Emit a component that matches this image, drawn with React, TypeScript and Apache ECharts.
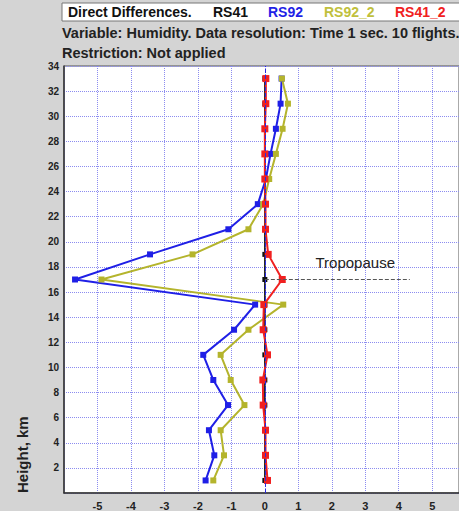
import { useEffect, useRef } from "react";
import * as echarts from "echarts";

// heights (km) where the differences were computed
const heights = [1, 3, 5, 7, 9, 11, 13, 15, 17, 19, 21, 23, 25, 27, 29, 31, 33];

// humidity differences vs RS41 (reference)
const rs41 = [0, 0, 0, 0, 0, 0, 0, 0, 0, 0, 0, 0, 0, 0, 0, 0, 0];
const rs92 = [-1.77, -1.51, -1.67, -1.1, -1.54, -1.84, -0.92, -0.29, -5.67, -3.43, -1.09, -0.21, 0.03, 0.17, 0.33, 0.47, 0.5];
const rs92_2 = [-1.54, -1.22, -1.32, -0.61, -1.02, -1.32, -0.49, 0.55, -4.88, -2.16, -0.49, -0.05, 0.13, 0.33, 0.53, 0.69, 0.51];
const rs41_2 = [0.08, 0.02, 0.02, -0.05, -0.06, 0.08, -0.05, -0.03, 0.52, 0.1, 0.02, 0.02, 0, 0, 0, 0.03, 0.03];

const seriesNames = ["RS41", "RS92", "RS92_2", "RS41_2"];
const seriesColors = ["#111111", "#1f1fe6", "#b4b42c", "#f02020"];

const tropopauseHeight = 17;
const tropopauseEnd = 4.33;

const FONT = "'Liberation Sans', Arial, sans-serif";

const pairs = (xs: number[]) => xs.map((x, i) => [x, heights[i]]);

export default function App() {
  const chartRef = useRef<HTMLDivElement>(null);

  useEffect(() => {
    if (!chartRef.current) return;
    const chart = echarts.init(chartRef.current, null, { renderer: "svg" });

    const headerText = (text: string, x: number, y: number, color: string, size: number) => ({
      type: "text",
      left: x,
      top: y,
      style: { text, fill: color, font: `bold ${size}px ${FONT}` },
    });

    const option: echarts.EChartsOption = {
      animation: false,
      backgroundColor: "#d4d4d4",
      grid: {
        left: 64,
        top: 66,
        right: 0,
        bottom: 18,
        show: true,
        backgroundColor: "#ffffff",
        borderColor: "#555",
        borderWidth: 1,
      },
      xAxis: {
        type: "value",
        // the original plot runs on past the right edge of the picture
        min: -6,
        max: 5.8,
        interval: 1,
        axisLine: { show: true, onZero: false, lineStyle: { color: "#333", width: 1.5 } },
        axisTick: { show: false },
        axisLabel: {
          showMinLabel: false,
          showMaxLabel: false,
          color: "#222",
          fontWeight: "bold",
          fontSize: 11,
          fontFamily: FONT,
          margin: 7,
        },
        splitLine: { show: true, lineStyle: { color: "#8c8cf0", type: "dotted", width: 1 } },
      },
      yAxis: {
        type: "value",
        min: 0,
        max: 34,
        interval: 2,
        axisLine: { show: true, onZero: false, lineStyle: { color: "#333", width: 1.5 } },
        axisTick: { show: false },
        axisLabel: {
          showMinLabel: false,
          color: "#222",
          fontWeight: "bold",
          fontSize: 10,
          fontFamily: FONT,
          margin: 5,
        },
        splitLine: { show: true, lineStyle: { color: "#8c8cf0", type: "dotted", width: 1 } },
      },
      series: [
        {
          name: seriesNames[1],
          type: "line",
          data: pairs(rs92),
          color: seriesColors[1],
          symbol: "rect",
          symbolSize: 6,
          lineStyle: { width: 2 },
          markLine: {
            silent: true,
            symbol: "none",
            label: { show: false },
            lineStyle: { color: "#2a2ae0", type: "dashed", width: 1 },
            data: [{ xAxis: 0 }],
          },
        },
        {
          name: seriesNames[2],
          type: "line",
          data: pairs(rs92_2),
          color: seriesColors[2],
          symbol: "rect",
          symbolSize: 6,
          lineStyle: { width: 2 },
        },
        {
          name: seriesNames[0],
          type: "line",
          data: pairs(rs41),
          color: seriesColors[0],
          symbol: "rect",
          symbolSize: 5,
          lineStyle: { width: 1.5 },
          markLine: {
            silent: true,
            symbol: "none",
            label: { show: false },
            lineStyle: { color: "#555", type: "dashed", width: 1 },
            data: [[{ coord: [0, tropopauseHeight] }, { coord: [tropopauseEnd, tropopauseHeight] }]],
          },
          markPoint: {
            silent: true,
            symbol: "circle",
            symbolSize: 0,
            label: {
              show: true,
              formatter: "Tropopause",
              color: "#222",
              fontSize: 15,
              fontFamily: FONT,
            },
            data: [{ coord: [2.7, 18.37] }],
          },
        },
        {
          name: seriesNames[3],
          type: "line",
          data: pairs(rs41_2),
          color: seriesColors[3],
          symbol: "rect",
          symbolSize: 7,
          lineStyle: { width: 2 },
        },
      ],
      graphic: [
        {
          type: "rect",
          shape: { x: 62, y: 3, width: 420, height: 18 },
          style: { fill: "#ffffff", stroke: "#777", lineWidth: 1 },
        },
        headerText("Direct Differences.", 68, 5, "#111", 14),
        headerText(seriesNames[0], 213, 5, seriesColors[0], 14),
        headerText(seriesNames[1], 268, 5, seriesColors[1], 14),
        headerText(seriesNames[2], 324, 5, "#c0c03c", 14),
        headerText(seriesNames[3], 395, 5, seriesColors[3], 14),
        headerText("Variable: Humidity. Data resolution: Time 1 sec. 10 flights.", 62, 25, "#222", 14.5),
        headerText("Restriction: Not applied", 62, 45, "#222", 14.5),
        {
          type: "text",
          x: 15,
          y: 493,
          rotation: Math.PI / 2,
          style: { text: "Height, km", fill: "#222", font: `bold 15px ${FONT}` },
        },
      ],
    };

    chart.setOption(option);
    return () => chart.dispose();
  }, []);

  return (
    <div
      ref={chartRef}
      style={{ position: "absolute", left: 0, top: 0, width: 459, height: 511 }}
    />
  );
}
